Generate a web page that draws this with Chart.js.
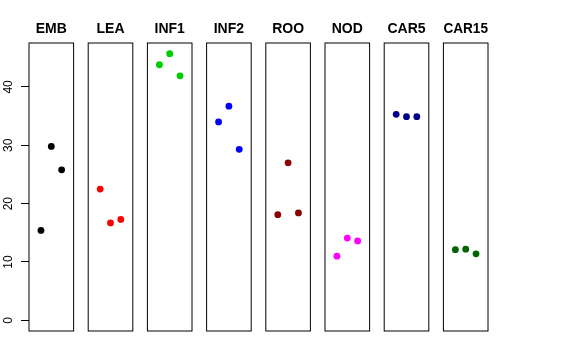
<!DOCTYPE html>
<html>
<head>
<meta charset="utf-8">
<script src="https://cdn.jsdelivr.net/npm/chart.js@4"></script>
<style>
  body { margin: 0; background: #fff; }
  #wrap { position: relative; width: 576px; height: 360px; }
  #wrap canvas { position: absolute; left: 0; top: 0; }
</style>
</head>
<body>
<div id="wrap"></div>
<script>
// panel names and colours
const panels = ['EMB', 'LEA', 'INF1', 'INF2', 'ROO', 'NOD', 'CAR5', 'CAR15'];
const colours = ['#000000', '#FF0000', '#00CD00', '#0000FF', '#8B0000', '#FF00FF', '#00008B', '#006400'];

// x position of the three replicates inside each panel
const replicate = [1, 2, 3];

// values per panel
const emb = [15.4, 29.8, 25.8];
const lea = [22.5, 16.7, 17.3];
const inf1 = [43.8, 45.7, 41.9];
const inf2 = [34.0, 36.7, 29.3];
const roo = [18.1, 27.0, 18.4];
const nod = [11.0, 14.1, 13.6];
const car5 = [35.3, 34.9, 34.9];
const car15 = [12.1, 12.2, 11.4];
const values = [emb, lea, inf1, inf2, roo, nod, car5, car15];

const yTicks = [0, 10, 20, 30, 40];

// panel geometry
const firstLeft = 29;
const pitch = 59.2;
const panelWidth = 44.6;
const axisWidth = 29;

const boxPlugin = {
  id: 'box',
  afterDraw(chart) {
    const a = chart.chartArea;
    const ctx = chart.ctx;
    ctx.save();
    ctx.strokeStyle = '#000';
    ctx.lineWidth = 1;
    ctx.strokeRect(a.left, a.top, a.right - a.left, a.bottom - a.top);
    ctx.restore();
  }
};

const wrap = document.getElementById('wrap');

panels.forEach((name, i) => {
  const canvas = document.createElement('canvas');
  canvas.width = 576;
  canvas.height = 360;
  wrap.appendChild(canvas);

  const areaLeft = firstLeft + pitch * i;
  const first = i === 0;
  const padLeft = first ? areaLeft - axisWidth : areaLeft;
  const padRight = 576 - areaLeft - panelWidth;

  new Chart(canvas.getContext('2d'), {
    type: 'scatter',
    data: {
      datasets: [{
        data: replicate.map((x, j) => ({ x: x, y: values[i][j] })),
        backgroundColor: colours[i],
        borderWidth: 0,
        pointRadius: 3.4,
      }],
    },
    plugins: [boxPlugin],
    options: {
      responsive: false,
      animation: false,
      events: [],
      layout: { padding: { left: padLeft, right: padRight, top: 0, bottom: 29 } },
      plugins: {
        legend: { display: false },
        tooltip: { enabled: false },
        title: {
          display: true,
          text: name,
          fullSize: !first,
          color: '#000',
          font: { family: 'Liberation Sans, Arial, sans-serif', size: 14, weight: 'bold' },
          padding: { top: 20.6, bottom: 5.6 },
        },
      },
      scales: {
        x: {
          type: 'linear',
          min: -0.16,
          max: 4.16,
          display: false,
        },
        y: {
          type: 'linear',
          min: -1.83,
          max: 47.53,
          display: first,
          afterBuildTicks: (scale) => { scale.ticks = yTicks.map(v => ({ value: v })); },
          afterFit: (scale) => { if (first) scale.width = axisWidth; },
          border: { display: false },
          grid: {
            display: true,
            drawOnChartArea: false,
            drawTicks: true,
            tickLength: 8,
            color: '#000',
          },
          ticks: {
            color: '#000',
            font: { family: 'Liberation Sans, Arial, sans-serif', size: 12 },
            minRotation: 90,
            maxRotation: 90,
            crossAlign: 'center',
            padding: 6,
          },
        },
      },
    },
  });
});
</script>
</body>
</html>
